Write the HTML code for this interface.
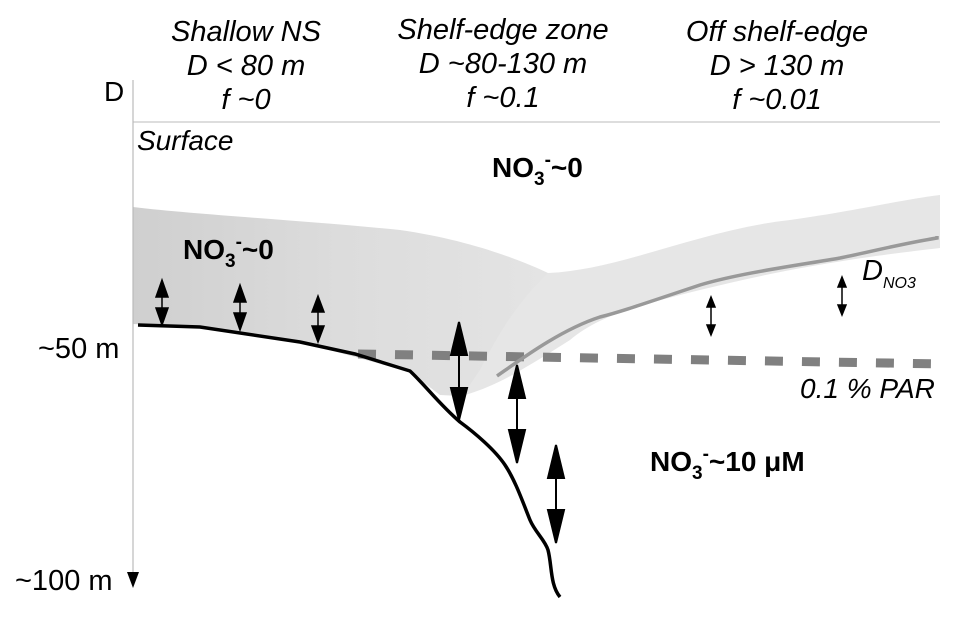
<!DOCTYPE html>
<html><head><style>
body{margin:0;background:#fff;}
svg{display:block;font-family:"Liberation Sans",sans-serif;}
</style></head><body>
<svg width="960" height="617" viewBox="0 0 960 617" xmlns="http://www.w3.org/2000/svg">
<defs>
<linearGradient id="g1" x1="0" y1="0" x2="1" y2="0">
<stop offset="0" stop-color="#cfcfcf"/><stop offset="0.5" stop-color="#dcdcdc"/><stop offset="1" stop-color="#e4e4e4"/>
</linearGradient>
</defs>
<path d="M450,250 C500,270 530,275 548,273 C620,270 700,230 790,220 C860,210 900,200 940,195 L940,248 C880,255 800,265 700,290 C640,305 600,315 570,340 C530,365 500,385 465,395 Z" fill="#e6e6e6"/>
<path d="M133,207 C200,215 300,220 400,230 C470,240 520,260 548,273 C520,300 500,330 480,370 C470,385 465,392 460,396 L440,395 L410,372 L300,342 L200,327 L133,324 Z" fill="url(#g1)"/>
<line x1="133" y1="80" x2="133" y2="575" stroke="#bbb" stroke-width="1.2"/>
<polygon points="127,572 139,572 133,588" fill="#000"/>
<line x1="133" y1="122" x2="940" y2="122" stroke="#bbb" stroke-width="1"/>
<line x1="358" y1="354" x2="945" y2="364" stroke="#808080" stroke-width="9" stroke-dasharray="18,19"/>
<path d="M497,376 C520,360 560,330 600,317 C620,312 640,305 700,285 C740,273 800,265 840,258 C870,252 900,244 937,238 L937,236" fill="none" stroke="#999" stroke-width="3.5"/>
<path d="M138,325 L200,327 L300,342 L355,354 L410,371 C425,385 440,405 460,422 C475,433 495,450 505,465 C515,480 522,500 530,520 C535,532 545,540 548,550 C552,565 550,585 560,597" fill="none" stroke="#000" stroke-width="3.5"/>
<g stroke="#000" stroke-width="1.5" fill="#000">
<line x1="162" y1="290" x2="162" y2="315"/><polygon points="156,297 168,297 162,280"/><polygon points="156,308 168,308 162,325"/>
<line x1="240" y1="295" x2="240" y2="320"/><polygon points="234,302 246,302 240,285"/><polygon points="234,313 246,313 240,330"/>
<line x1="318" y1="305" x2="318" y2="332"/><polygon points="312,312 324,312 318,296"/><polygon points="312,326 324,326 318,342"/>
<line x1="711" y1="303" x2="711" y2="330"/><polygon points="707,307 715,307 711,297"/><polygon points="707,325 715,325 711,335"/>
<line x1="842" y1="283" x2="842" y2="310"/><polygon points="838,287 846,287 842,277"/><polygon points="838,305 846,305 842,315"/>
</g>
<g stroke="#000" stroke-width="2" fill="#000">
<line x1="459" y1="345" x2="459" y2="395"/><polygon points="451,355 467,355 459,322"/><polygon points="451,388 467,388 459,420"/>
<line x1="517" y1="390" x2="517" y2="440"/><polygon points="509,398 525,398 517,365"/><polygon points="509,430 525,430 517,463"/>
<line x1="556" y1="470" x2="556" y2="520"/><polygon points="548,478 564,478 556,445"/><polygon points="548,510 564,510 556,543"/>
</g>
<g font-style="italic" font-size="29" text-anchor="middle" fill="#000">
<text x="246" y="41">Shallow NS</text><text x="246" y="75">D &lt; 80 m</text><text x="246" y="109">f ~0</text>
<text x="503" y="39">Shelf-edge zone</text><text x="503" y="73">D ~80-130 m</text><text x="503" y="107">f ~0.1</text>
<text x="777" y="41">Off  shelf-edge</text><text x="777" y="75">D &gt; 130 m</text><text x="777" y="109">f ~0.01</text>
</g>
<text x="104" y="101" font-size="28">D</text>
<text x="137" y="150" font-size="28" font-style="italic">Surface</text>
<text x="38" y="358" font-size="29">~50 m</text>
<text x="15" y="590" font-size="29">~100 m</text>
<g font-weight="bold" font-size="28">
<text x="492" y="177">NO<tspan font-size="19" dy="8">3</tspan><tspan font-size="19" dy="-19">-</tspan><tspan dy="11">~0</tspan></text>
<text x="183" y="259">NO<tspan font-size="19" dy="8">3</tspan><tspan font-size="19" dy="-19">-</tspan><tspan dy="11">~0</tspan></text>
<text x="650" y="471">NO<tspan font-size="19" dy="8">3</tspan><tspan font-size="19" dy="-19">-</tspan><tspan dy="11">~10 μM</tspan></text>
</g>
<text x="862" y="280" font-size="29" font-style="italic">D<tspan font-size="16" dy="8">NO3</tspan></text>
<text x="800" y="398" font-size="28" font-style="italic">0.1 % PAR</text>
</svg>
</body></html>
